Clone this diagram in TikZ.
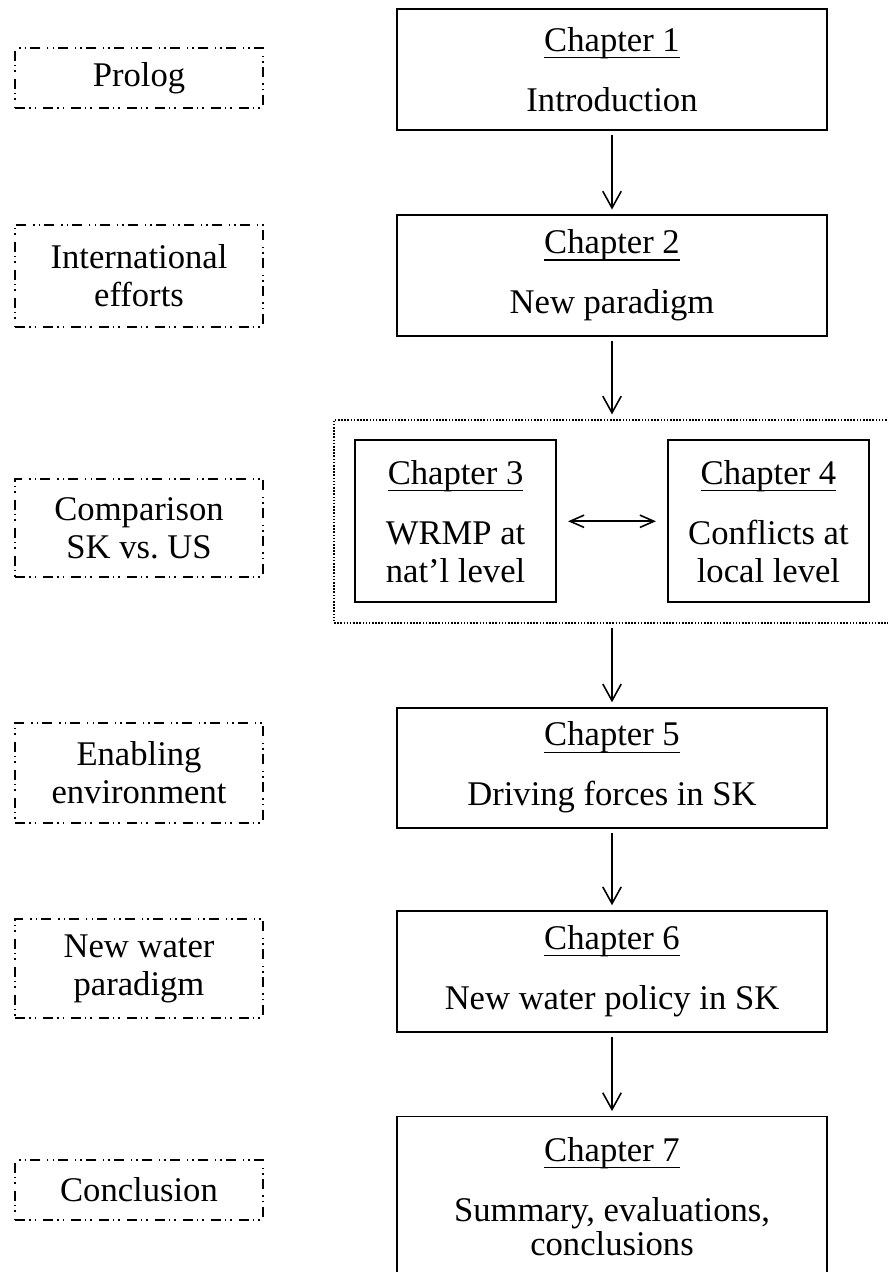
\documentclass[tikz,border=0pt]{standalone}
\usepackage{fontspec}
\setmainfont{Liberation Serif}
\usetikzlibrary{arrows.meta,positioning}
\tikzset{
  >=Stealth,
  every picture/.append style={line width=0.6pt},
}
\newcommand{\chtitle}[1]{\setbox0\hbox{#1}\rlap{\rule[-4pt]{\wd0}{0.8pt}}\box0}

\begin{document}
\begin{tikzpicture}[
  x=0.02cm, y=-0.02cm,
  font=\fontsize{19.7}{21.6}\selectfont,
  every node/.style={align=center},
  chbox/.style={rectangle, draw, line width=1.1pt, minimum width=8.6cm, minimum height=2.42cm, inner sep=0pt},
  subbox/.style={rectangle, draw, line width=1.1pt, minimum width=4.02cm, minimum height=3.24cm, inner sep=0pt},
  grpbox/.style={rectangle, draw, line width=1.1pt, dash pattern=on 0.9pt off 0.9pt, minimum width=11.12cm, minimum height=4.06cm},
  sidebox/.style={rectangle, draw, line width=0.8pt, dash pattern=on 5.7pt off 2.3pt on 0.85pt off 2.3pt on 0.85pt off 3.9pt, minimum width=4.96cm, inner sep=0pt},
  flow/.style={-{Straight Barb[length=9.5pt,width=10.5pt]}, line width=0.9pt, shorten <=2.5pt, shorten >=2.5pt},
  biflow/.style={{Straight Barb[length=8pt,width=7pt]}-{Straight Barb[length=8pt,width=7pt]}, line width=0.9pt, shorten <=6.3pt, shorten >=6.3pt}
]
\useasboundingbox (0,0) rectangle (887,1272);

% --- Chapter column ---
\node[chbox] (ch1) at (612,69.5) {\chtitle{Chapter 1}\\[12.5pt]Introduction};
\node[chbox, below=1.66cm of ch1] (ch2) {\chtitle{Chapter 2}\\[12.5pt]New paradigm};

% --- Comparison group (right side runs off the page) ---
\node[grpbox, below=1.64cm of ch2] (grp) {};
\node[subbox, left=1.1cm of grp.center] (ch3) {\chtitle{Chapter 3}\\[12.5pt]WRMP at\\nat'l level};
\node[subbox, right=1.1cm of grp.center] (ch4) {\chtitle{Chapter 4}\\[12.5pt]Conflicts at\\local level};

\node[chbox, below=1.66cm of grp, minimum height=2.4cm] (ch5) {\chtitle{Chapter 5}\\[12.5pt]Driving forces in SK};
\node[chbox, below=1.62cm of ch5] (ch6) {\chtitle{Chapter 6}\\[12.5pt]New water policy in SK};
\node[chbox, below=1.66cm of ch6, minimum height=3.2cm] (ch7) {\chtitle{Chapter 7}\\[12.5pt]Summary, evaluations,\\[-2pt]conclusions};

% --- Side labels ---
\node[sidebox, minimum height=1.2cm] (prolog) at (139,78) {Prolog};
\node[sidebox, minimum height=2.04cm] (intl) at (139,276) {International\\efforts};
\node[sidebox, minimum height=1.96cm] (cmp) at (139,528) {Comparison\\SK vs.\ US};
\node[sidebox, minimum height=2cm] (enab) at (139,773) {Enabling\\environment};
\node[sidebox, minimum height=1.98cm] (nwp) at (139,968.5) {New water\\paradigm};
\node[sidebox, minimum height=1.2cm] (concl) at (139,1190) {Conclusion};

% --- Arrows ---
\draw[flow] (ch1) -- (ch2);
\draw[flow] (ch2) -- (grp);
\draw[biflow] (ch3) -- (ch4);
\draw[flow] (grp) -- (ch5);
\draw[flow] (ch5) -- (ch6);
\draw[flow] (ch6) -- (ch7);

\end{tikzpicture}
\end{document}
